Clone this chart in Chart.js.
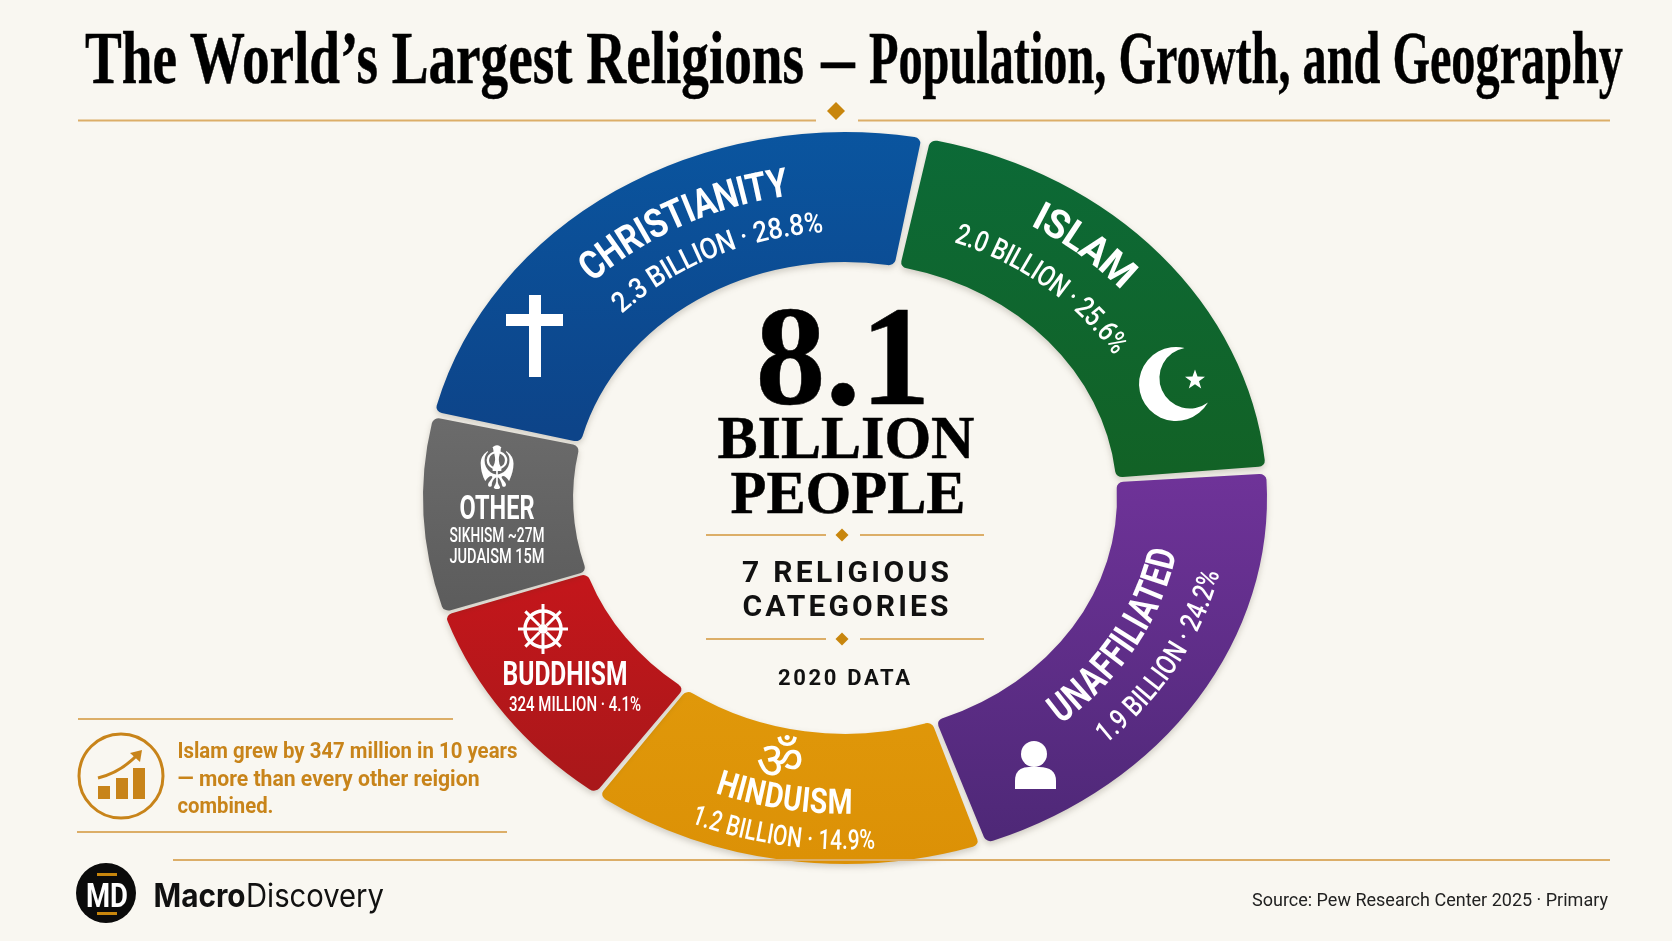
<!DOCTYPE html>
<html>
<head>
<meta charset="utf-8">
<title>The World's Largest Religions</title>
<script src="https://cdn.jsdelivr.net/npm/chart.js@4"></script>
<style>
  html, body { margin: 0; padding: 0; background: #f9f7f1; overflow: hidden; }
  #wrap { position: relative; width: 1672px; height: 941px; }
  canvas, svg { position: absolute; left: 0; top: 0; }
  .name { font-family: "Roboto", sans-serif; font-weight: 700; fill: #fff; }
  .sub { font-family: "Roboto", sans-serif; font-weight: 500; fill: #fff; }
  .icon { font-family: "Noto Sans", "DejaVu Sans", sans-serif; fill: #fff; }
  .serif { font-family: "Liberation Serif", serif; font-weight: 700; fill: #000; stroke: #000; stroke-width: 0.5px; }
  .mid { font-family: "Roboto", sans-serif; font-weight: 700; fill: #111; }
  .note { font-family: "Roboto", sans-serif; font-weight: 700; fill: #c8841a; font-size: 22px; }
</style>
</head>
<body>
<div id="wrap">
  <canvas id="chart" width="1672" height="941"></canvas>
  <svg id="overlay" width="1672" height="941" xmlns="http://www.w3.org/2000/svg"></svg>
</div>
<script>
const categories = ["Christianity", "Islam", "Unaffiliated", "Hinduism", "Buddhism", "Other"];
// the slices in the picture are not drawn to scale, so these are the sweeps as drawn (degrees)
const sweepDegrees = [88.1, 74.5, 75.4, 55, 35.6, 31.4];
const nameLabels = ["CHRISTIANITY", "ISLAM", "UNAFFILIATED", "HINDUISM", "BUDDHISM", "OTHER"];
const subLabels = ["2.3 BILLION · 28.8%", "2.0 BILLION · 25.6%", "1.9 BILLION · 24.2%", "1.2 BILLION · 14.9%", "324 MILLION · 4.1%"];
const otherLabels = ["SIKHISM ~27M", "JUDAISM 15M"];

const colorsTop = ["#0a559f", "#0c6a37", "#6f3399", "#e0980a", "#c4161b", "#6b6b6b"];
const colorsBottom = ["#0d4489", "#126226", "#4e2877", "#dc9106", "#a9181a", "#5c5c5c"];
const gradientRange = [[132, 430], [140, 470], [470, 840], [690, 860], [575, 790], [420, 610]];

const cx = 845, cy = 498, rx = 422, ry = 366;

// stretches the round doughnut into the flat ring of the picture
const ellipsePlugin = {
  id: "ellipse",
  beforeDatasetsDraw(chart) {
    const ctx = chart.ctx;
    ctx.save();
    ctx.translate(cx, cy);
    ctx.scale(rx / ry, 1);
    ctx.translate(-cx, -cy);
    ctx.shadowColor = "rgba(60,50,30,0.22)";
    ctx.shadowBlur = 6;
    ctx.shadowOffsetY = 3;
  },
  afterDatasetsDraw(chart) {
    chart.ctx.restore();
  },
};

const canvas = document.getElementById("chart");
const fills = categories.map((_, i) => {
  const g = canvas.getContext("2d").createLinearGradient(0, gradientRange[i][0], 0, gradientRange[i][1]);
  g.addColorStop(0, colorsTop[i]);
  g.addColorStop(1, colorsBottom[i]);
  return g;
});

new Chart(canvas, {
  type: "doughnut",
  data: {
    labels: categories,
    datasets: [{
      data: sweepDegrees,
      backgroundColor: fills,
      borderWidth: 0,
      borderRadius: 6,
      spacing: 9,
    }],
  },
  options: {
    responsive: false,
    animation: false,
    devicePixelRatio: 1,
    rotation: -77,
    cutout: "64%",
    layout: { padding: { top: 132, bottom: 77, left: 395, right: 377 } },
    plugins: { legend: { display: false }, tooltip: { enabled: false } },
  },
  plugins: [ellipsePlugin],
});

const overlay = document.getElementById("overlay");
let html = "";

function text(str, x, y, size, cls, opts = {}) {
  const anchor = opts.anchor || "middle";
  const extra = opts.width ? `textLength="${opts.width}" lengthAdjust="${opts.adjust || "spacingAndGlyphs"}"` : "";
  html += `<text x="${x}" y="${y}" font-size="${size}" class="${cls}" text-anchor="${anchor}" ${extra}>${str}</text>`;
}

function rule(x1, x2, y, w = 2) {
  html += `<line x1="${x1}" x2="${x2}" y1="${y}" y2="${y}" stroke="#dcae68" stroke-width="${w}"/>`;
}

function diamond(x, y, a, b) {
  html += `<path d="M${x} ${y - b}L${x + a} ${y}L${x} ${y + b}L${x - a} ${y}Z" fill="#c8860d"/>`;
}

function ellipsePoint(deg, f) {
  const t = deg * Math.PI / 180;
  return [cx + rx * f * Math.sin(t), cy - ry * f * Math.cos(t)];
}

// text bent round the ring: mid = angle from the top, f = fraction of the outer radius
let pathId = 0;
function arcText(str, mid, f, size, cls, width, outward) {
  const a = ellipsePoint(mid - 70, f), b = ellipsePoint(mid + 70, f);
  const from = outward ? a : b, to = outward ? b : a;
  const id = "p" + pathId++;
  html += `<path id="${id}" fill="none" d="M${from[0]} ${from[1]}A${rx * f} ${ry * f} 0 0 ${outward ? 1 : 0} ${to[0]} ${to[1]}"/>`;
  html += `<text font-size="${size}" class="${cls}" text-anchor="middle" dominant-baseline="central"><textPath href="#${id}" startOffset="50%" textLength="${width}" lengthAdjust="spacingAndGlyphs">${str}</textPath></text>`;
}

// header
text("The World’s Largest Religions", 85, 83, 74, "serif", { anchor: "start", width: 719 });
text("—", 821, 83, 74, "serif", { anchor: "start", width: 34 });
text("Population, Growth, and Geography", 869, 83, 74, "serif", { anchor: "start", width: 754 });
rule(78, 816, 120.5);
rule(858, 1610, 120.5);
diamond(836, 111, 9, 9);

// ring labels
arcText(nameLabels[0], -29.7, 0.875, 40, "name", 226, true);
arcText(subLabels[0], -27.5, 0.755, 29, "sub", 228, true);
arcText(nameLabels[1], 42.9, 0.902, 40, "name", 116, true);
arcText(subLabels[1], 42.3, 0.772, 29, "sub", 206, true);
arcText(nameLabels[2], 117.6, 0.766, 40, "name", 203, false);
arcText(subLabels[2], 117.3, 0.887, 29, "sub", 203, false);
arcText(nameLabels[3], 191.2, 0.83, 35, "name", 136, false);
arcText(subLabels[3], 190.2, 0.933, 28, "sub", 184, false);

text(nameLabels[4], 565, 685, 33, "name", { width: 125 });
text(subLabels[4], 575, 711, 20, "sub", { width: 132 });
text(nameLabels[5], 497, 519, 33, "name", { width: 75 });
text(otherLabels[0], 497, 542, 20, "sub", { width: 95 });
text(otherLabels[1], 497, 563, 20, "sub", { width: 95 });

// centre block
text("8.1", 843, 404, 142, "serif", { width: 175 });
text("BILLION", 846, 458, 62, "serif", { width: 257 });
text("PEOPLE", 848, 513, 62, "serif", { width: 235 });
rule(706, 826, 535);
rule(860, 984, 535);
diamond(842, 535, 6.5, 6.5);
text("7 RELIGIOUS", 845.5, 582, 30, "mid", { width: 207, adjust: "spacing" });
text("CATEGORIES", 845.5, 616, 30, "mid", { width: 206, adjust: "spacing" });
rule(706, 826, 639);
rule(860, 984, 639);
diamond(842, 639, 6.5, 6.5);
text("2020 DATA", 844, 685, 22, "mid", { width: 132, adjust: "spacing" });

// icons
html += `<path d="M529 295h12v82h-12zM506 314h57v12h-57z" fill="#fff"/>`;
html += `<path d="M1184.6 348A37 37 0 1 0 1208 402.6A30.5 30.5 0 1 1 1184.6 348Z" fill="#fff"/>`;
const star = [];
for (let i = 0; i < 10; i++) {
  const r = i % 2 ? 4.2 : 10.5, t = i * Math.PI / 5;
  star.push((1195 + r * Math.sin(t)).toFixed(1) + " " + (380 - r * Math.cos(t)).toFixed(1));
}
html += `<path d="M${star.join("L")}Z" fill="#fff"/>`;
html += `<circle cx="1034" cy="754" r="13" fill="#fff"/><path d="M1015 789v-8q0-14 14-14h10q17 0 17 14v8z" fill="#fff"/>`;
html += `<circle cx="543" cy="629" r="18" fill="none" stroke="#fff" stroke-width="3.5"/><circle cx="543" cy="629" r="5" fill="#fff"/>`;
for (let i = 0; i < 8; i++) {
  const t = i * Math.PI / 4, s = Math.sin(t), c = Math.cos(t);
  html += `<line x1="${543 + 5 * s}" y1="${629 - 5 * c}" x2="${543 + 25 * s}" y2="${629 - 25 * c}" stroke="#fff" stroke-width="3"/>`;
}
text("☬", 497, 489, 60, "icon");
text("ॐ", 780, 778, 52, "icon");

// side note
rule(78, 453, 719);
rule(77, 507, 832);
html += `<circle cx="121" cy="776" r="42" fill="none" stroke="#c8841a" stroke-width="3"/>`;
html += `<path d="M98 786h12v13h-12zM116 778h12v21h-12zM133 768h12v31h-12z" fill="#c8841a"/>`;
html += `<path d="M98 778Q122 772 139 753" fill="none" stroke="#c8841a" stroke-width="3"/><path d="M142 750L130 753L140 762Z" fill="#c8841a"/>`;
text("Islam grew by 347 million in 10 years", 177.5, 758, 22, "note", { anchor: "start", width: 340 });
text("— more than every other reigion", 177.5, 786, 22, "note", { anchor: "start", width: 302 });
text("combined.", 177.5, 813, 22, "note", { anchor: "start", width: 96 });

// footer
rule(173, 1610, 860);
html += `<circle cx="106" cy="893" r="30" fill="#0b0b0b"/><path d="M97 873h20v3h-20zM97 912h20v3h-20z" fill="#c8860d"/>`;
html += `<text x="107" y="907" font-size="33" font-family="Roboto, sans-serif" font-weight="700" fill="#fff" text-anchor="middle" textLength="42" lengthAdjust="spacingAndGlyphs">MD</text>`;
html += `<text x="153.5" y="907" font-size="32" font-family="Inter, sans-serif" font-weight="700" fill="#111" textLength="92" lengthAdjust="spacingAndGlyphs">Macro</text>`;
html += `<text x="246" y="907" font-size="32" font-family="Inter, sans-serif" font-weight="400" fill="#111" textLength="138" lengthAdjust="spacingAndGlyphs">Discovery</text>`;
html += `<text x="1608" y="906" font-size="18" font-family="Roboto, sans-serif" fill="#222" text-anchor="end" textLength="356" lengthAdjust="spacing">Source: Pew Research Center 2025 · Primary</text>`;

overlay.innerHTML = html;
</script>
</body>
</html>
